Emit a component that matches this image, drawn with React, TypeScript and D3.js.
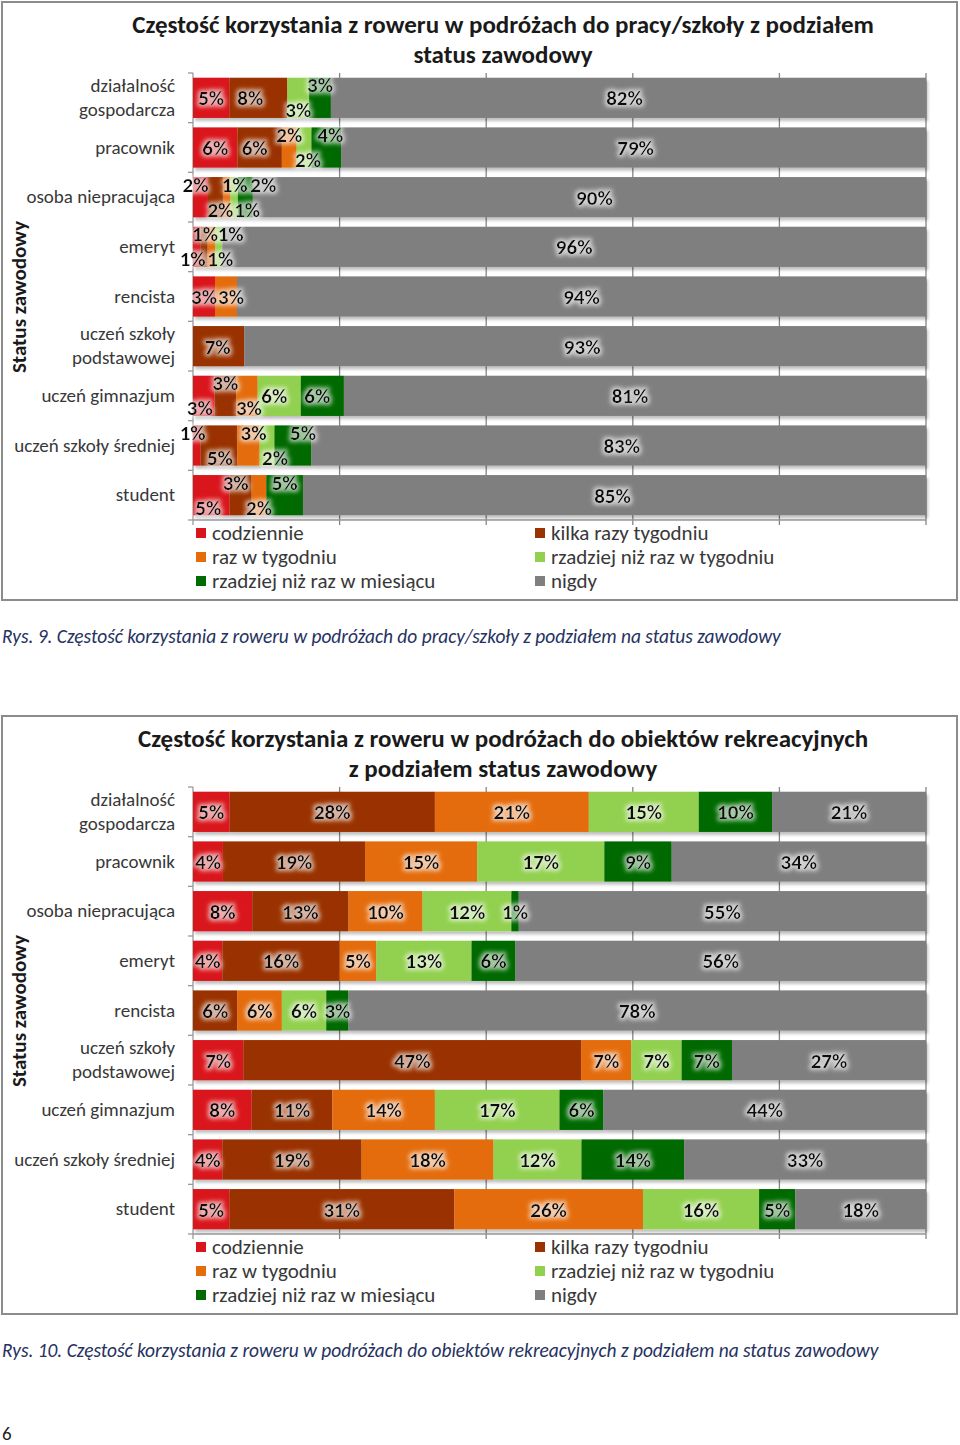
import React from 'react';
import * as d3 from 'd3';

const seriesNames = [
  'codziennie',
  'kilka razy tygodniu',
  'raz w tygodniu',
  'rzadziej niż raz w tygodniu',
  'rzadziej niż raz w miesiącu',
  'nigdy',
];
const seriesKeys = ['codz', 'kilka', 'raz', 'rzTyg', 'rzMies', 'nigdy'];
const seriesColors = ['#d9141c', '#993300', '#e46c0a', '#92d050', '#006b00', '#7f7f7f'];

const categories = [
  ['działalność', 'gospodarcza'],
  ['pracownik'],
  ['osoba niepracująca'],
  ['emeryt'],
  ['rencista'],
  ['uczeń szkoły', 'podstawowej'],
  ['uczeń gimnazjum'],
  ['uczeń szkoły średniej'],
  ['student'],
];

// Chart 1: praca / szkoła
const codziennie1 = [5, 6, 2, 1, 3, 0, 3, 1, 5];
const kilka1 = [8, 6, 2, 1, 0, 7, 3, 5, 3];
const raz1 = [0, 2, 1, 1, 3, 0, 3, 3, 2];
const rzTyg1 = [3, 2, 1, 1, 0, 0, 6, 2, 0];
const rzMies1 = [3, 4, 2, 0, 0, 0, 6, 5, 5];
const nigdy1 = [82, 79, 90, 96, 94, 93, 81, 83, 85];

// Chart 2: obiekty rekreacyjne
const codziennie2 = [5, 4, 8, 4, 0, 7, 8, 4, 5];
const kilka2 = [28, 19, 13, 16, 6, 47, 11, 19, 31];
const raz2 = [21, 15, 10, 5, 6, 7, 14, 18, 26];
const rzTyg2 = [15, 17, 12, 13, 6, 7, 17, 12, 16];
const rzMies2 = [10, 9, 1, 6, 3, 7, 6, 14, 5];
const nigdy2 = [21, 34, 55, 56, 78, 27, 44, 33, 18];

const xTicks = [0, 0.2, 0.4, 0.6, 0.8, 1];

// label nudges (layout only) for crowded small segments in chart 1: [dx, dy]
const U = -13;
const D = 12;
const labelNudge1 = [
  [[0, 0], [-8, 0], [0, 0], [0, D], [0, U], [-4, 0]],
  [[0, 0], [-5, 0], [0, U], [4, D], [4, U], [2, 0]],
  [[-5, U], [5, D], [8, U], [13, D], [18, U], [5, 0]],
  [[-4, D], [1, U], [9, D], [12, U], [0, 0], [0, 0]],
  [[0, 0], [0, 0], [5, 0], [0, 0], [0, 0], [0, 0]],
  [[0, 0], [-1, 0], [0, 0], [0, 0], [0, 0], [-3, 0]],
  [[-4, D], [0, U], [2, D], [-5, 0], [-5, 0], [-5, 0]],
  [[-4, U], [1, D], [5, U], [8, D], [10, U], [3, 0]],
  [[-3, D], [-5, U], [0, D], [0, 0], [0, U], [-2, 0]],
];
const labelNudge2 = categories.map(() => seriesKeys.map(() => [0, 0]));

const FONT = "Carlito, Calibri, Lato, 'Open Sans', sans-serif";

type ChartProps = {
  y0: number;
  id: string;
  title: string[];
  caption: string;
  cols: number[][];
  nudges: number[][][];
};

function Chart({ y0, id, title, caption, cols, nudges }: ChartProps) {
  const rows = categories.map((c, i) => {
    const r: any = { cat: c.join(' '), idx: i };
    seriesKeys.forEach((k, j) => (r[k] = cols[j][i]));
    return r;
  });
  const stack = d3.stack<any>().keys(seriesKeys).offset(d3.stackOffsetExpand);
  const layers = stack(rows);

  const x = d3.scaleLinear().domain([0, 1]).range([193, 926]);
  const y = d3
    .scaleBand<string>()
    .domain(rows.map((r) => r.cat))
    .range([y0 + 71, y0 + 518])
    .paddingInner(0.19)
    .paddingOuter(0.095);
  const step = y.step();
  const plotTop = y0 + 71;
  const plotBottom = y0 + 518;

  return (
    <g>
      <rect x={2} y={y0} width={955} height={598} fill="#fff" stroke="#8c8c8c" strokeWidth={2} />
      {title.map((t, i) => (
        <text
          key={i}
          x={503}
          y={y0 + 31 + i * 30}
          textAnchor="middle"
          fontFamily={FONT}
          fontWeight="bold"
          fontSize={25}
          fill="#1a1a1a"
        >
          {t}
        </text>
      ))}
      {/* gridlines */}
      {xTicks.slice(1).map((t) => (
        <line key={t} x1={x(t)} x2={x(t)} y1={plotTop} y2={plotBottom + 5} stroke="#868686" strokeWidth={1.3} />
      ))}
      {/* axes */}
      <line x1={x(0)} x2={x(0)} y1={plotTop} y2={plotBottom} stroke="#9a9a9a" strokeWidth={1.3} />
      <line x1={x(0)} x2={x(1)} y1={plotBottom} y2={plotBottom} stroke="#9a9a9a" strokeWidth={1.3} />
      {d3.range(categories.length + 1).map((i) => (
        <line
          key={i}
          x1={x(0) - 5}
          x2={x(0)}
          y1={plotTop + i * step}
          y2={plotTop + i * step}
          stroke="#9a9a9a"
          strokeWidth={1.3}
        />
      ))}
      <line x1={x(0)} x2={x(0)} y1={plotBottom} y2={plotBottom + 5} stroke="#9a9a9a" strokeWidth={1.3} />
      {/* bars */}
      <g filter={`url(#shadow${id})`}>
        {layers.map((layer, j) => (
          <g key={layer.key} fill={seriesColors[j]}>
            {layer.map((d: any) => (
              <rect
                key={d.data.cat}
                x={x(d[0])}
                width={Math.max(0, x(d[1]) - x(d[0]))}
                y={y(d.data.cat)}
                height={y.bandwidth()}
              />
            ))}
          </g>
        ))}
      </g>
      {/* value labels */}
      <g fontFamily={FONT} fontWeight="bold" fontSize={21} fill="#111" textAnchor="middle" filter="url(#glow)">
        {layers.map((layer, j) =>
          layer.map((d: any) => {
            const v = cols[j][d.data.idx];
            if (!v) return null;
            const nd = nudges[d.data.idx][j];
            return (
              <text
                key={layer.key + d.data.cat}
                x={(x(d[0]) + x(d[1])) / 2 + nd[0]}
                y={(y(d.data.cat) as number) + y.bandwidth() / 2 + nd[1]}
                dy="0.35em"
              >
                {v}%
              </text>
            );
          })
        )}
      </g>
      {/* category labels */}
      <g fontFamily={FONT} fontSize={19} fill="#383838" textAnchor="end">
        {categories.map((c, i) => {
          const cy = (y(rows[i].cat) as number) + y.bandwidth() / 2;
          return (
            <text key={i} x={175} y={cy} dy="0.33em">
              {c.length === 1 ? (
                c[0]
              ) : (
                <>
                  <tspan x={175} dy="-0.3em">{c[0]}</tspan>
                  <tspan x={175} dy="1.25em">{c[1]}</tspan>
                </>
              )}
            </text>
          );
        })}
      </g>
      <text
        transform={`translate(26, ${y0 + 295}) rotate(-90)`}
        textAnchor="middle"
        fontFamily={FONT}
        fontWeight="bold"
        fontSize={21}
        fill="#1a1a1a"
      >
        Status zawodowy
      </text>
      {/* legend */}
      <g fontFamily={FONT} fontSize={21} fill="#383838">
        {seriesNames.map((s, j) => {
          const col = j % 2;
          const row = Math.floor(j / 2);
          const lx = col === 0 ? 196 : 535;
          const ly = y0 + 531 + row * 24;
          return (
            <g key={s}>
              <rect x={lx} y={ly - 5} width={10} height={10} fill={seriesColors[j]} />
              <text x={lx + 16} y={ly} dy="0.33em">
                {s}
              </text>
            </g>
          );
        })}
      </g>
      <text
        x={2}
        y={y0 + 641}
        fontFamily={FONT}
        fontStyle="italic"
        fontSize={19.4}
        fill="#26325f"
      >
        {caption}
      </text>
    </g>
  );
}

export default function App() {
  return (
    <svg
      width={960}
      height={1445}
      style={{ position: 'absolute', left: 0, top: 0, background: '#fff' }}
    >
      <defs>
        <filter id="glow" x="-30%" y="-40%" width="160%" height="180%">
          <feMorphology in="SourceAlpha" operator="dilate" radius="2" result="d" />
          <feGaussianBlur in="d" stdDeviation="2.2" result="b" />
          <feFlood floodColor="#ffffff" floodOpacity="0.65" />
          <feComposite in2="b" operator="in" result="g" />
          <feMerge>
            <feMergeNode in="g" />
            <feMergeNode in="SourceGraphic" />
          </feMerge>
        </filter>
        {['1', '2'].map((id) => (
          <filter key={id} id={`shadow${id}`} x="-5%" y="-20%" width="110%" height="140%">
            <feDropShadow dx="2" dy="3" stdDeviation="1.5" floodColor="#000" floodOpacity="0.25" />
          </filter>
        ))}
      </defs>
      <Chart
        y0={2}
        id="1"
        title={['Częstość korzystania z roweru w podróżach do pracy/szkoły z podziałem', 'status zawodowy']}
        caption="Rys. 9. Częstość korzystania z roweru w podróżach do pracy/szkoły z podziałem na status zawodowy"
        cols={[codziennie1, kilka1, raz1, rzTyg1, rzMies1, nigdy1]}
        nudges={labelNudge1}
      />
      <Chart
        y0={716}
        id="2"
        title={['Częstość korzystania z roweru w podróżach do obiektów rekreacyjnych', 'z podziałem status zawodowy']}
        caption="Rys. 10. Częstość korzystania z roweru w podróżach do obiektów rekreacyjnych z podziałem na status zawodowy"
        cols={[codziennie2, kilka2, raz2, rzTyg2, rzMies2, nigdy2]}
        nudges={labelNudge2}
      />
      <text x={2} y={1440} fontFamily={FONT} fontSize={19} fill="#222">
        6
      </text>
    </svg>
  );
}
